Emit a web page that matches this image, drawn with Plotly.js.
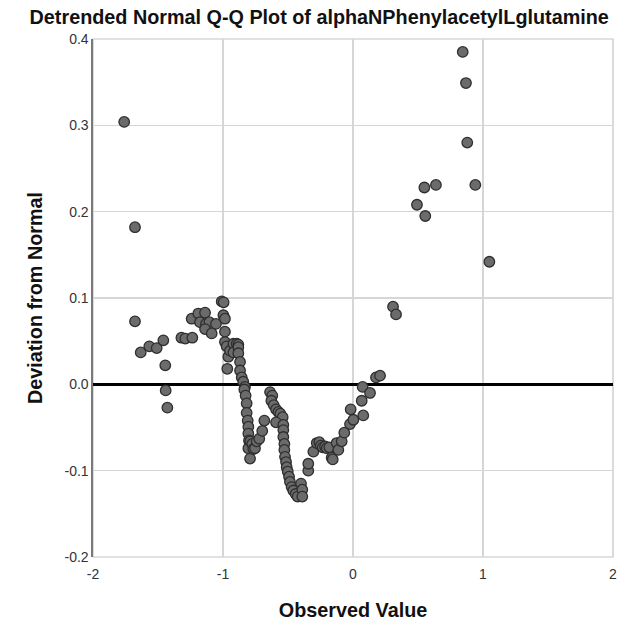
<!DOCTYPE html>
<html>
<head>
<meta charset="utf-8">
<script src="https://cdn.plot.ly/plotly-3.0.1.min.js"></script>
<style>
html,body{margin:0;padding:0;background:#fff;}
#chart{width:621px;height:625px;}
</style>
</head>
<body>
<div id="chart"></div>
<script>
// Observed values (x) and deviation from normal (y)
const observed = [
  -1.760, -1.677, -1.677, -1.633, -1.567, -1.510, -1.459, -1.444, -1.441, -1.428,
  -1.320, -1.290, -1.236,
  -1.241, -1.190, -1.138, -1.177, -1.131, -1.105, -1.054, -1.138, -1.087,
  -1.010, -0.995, -0.997, -0.985, -0.985, -0.985, -0.972, -0.959, -0.967, -0.946,
  -0.920, -0.920, -0.895, -0.882, -0.882, -0.882, -0.869, -0.869, -0.856, -0.844, -0.831,
  -0.836, -0.826, -0.818, -0.818, -0.810, -0.805, -0.805, -0.800, -0.805, -0.792,
  -0.790, -0.775, -0.767, -0.754, -0.741, -0.721, -0.698, -0.682,
  -0.638, -0.621, -0.628, -0.610, -0.592, -0.574, -0.559, -0.541, -0.592,
  -0.536, -0.536, -0.536, -0.528, -0.528, -0.523, -0.515, -0.510, -0.502, -0.492,
  -0.485, -0.472, -0.459, -0.441, -0.426, -0.400, -0.390, -0.390,
  -0.344, -0.344, -0.305, -0.279, -0.259, -0.248, -0.233, -0.215, -0.202, -0.182,
  -0.164, -0.156, -0.126, -0.113, -0.087, -0.067, -0.023, 0.003, -0.018, 0.079,
  0.067, 0.074, 0.131, 0.177, 0.208,
  0.308, 0.331, 0.492, 0.549, 0.556, 0.638, 0.844, 0.869, 0.879, 0.941, 1.049
];
const deviation = [
  0.304, 0.182, 0.073, 0.037, 0.044, 0.042, 0.051, 0.022, -0.007, -0.027,
  0.054, 0.053, 0.054,
  0.076, 0.082, 0.083, 0.072, 0.070, 0.072, 0.070, 0.064, 0.059,
  0.096, 0.095, 0.080, 0.076, 0.061, 0.049, 0.044, 0.032, 0.018, 0.039,
  0.047, 0.037, 0.047, 0.046, 0.043, 0.036, 0.026, 0.016, 0.008, 0.003, -0.003,
  -0.006, -0.013, -0.022, -0.033, -0.042, -0.049, -0.057, -0.065, -0.074, -0.086,
  -0.066, -0.069, -0.075, -0.074, -0.066, -0.063, -0.054, -0.042,
  -0.009, -0.013, -0.019, -0.024, -0.029, -0.032, -0.034, -0.038, -0.044,
  -0.047, -0.053, -0.061, -0.069, -0.076, -0.084, -0.090, -0.096, -0.101, -0.107,
  -0.113, -0.119, -0.123, -0.127, -0.130, -0.115, -0.122, -0.130,
  -0.100, -0.092, -0.078, -0.068, -0.067, -0.071, -0.073, -0.072, -0.074, -0.073,
  -0.085, -0.087, -0.068, -0.076, -0.066, -0.056, -0.046, -0.041, -0.029, -0.036,
  -0.019, -0.003, -0.010, 0.008, 0.010,
  0.090, 0.081, 0.208, 0.228, 0.195, 0.231, 0.385, 0.349, 0.280, 0.231, 0.142
];
const xTicks = [-2, -1, 0, 1, 2];
const yTicks = [0.4, 0.3, 0.2, 0.1, 0.0, -0.1, -0.2];

const FONT = '"Liberation Sans", Arial, sans-serif';

const trace = {
  type: 'scatter',
  mode: 'markers',
  x: observed,
  y: deviation,
  marker: {
    size: 10.5,
    color: '#6b6b6b',
    line: {color: '#2e2e2e', width: 1.3}
  },
  hoverinfo: 'x+y'
};

const layout = {
  width: 621,
  height: 625,
  margin: {l: 93, r: 8, t: 39, b: 68},
  paper_bgcolor: '#ffffff',
  plot_bgcolor: '#ffffff',
  showlegend: false,
  font: {family: FONT, color: '#222'},
  title: {
    text: '<b>Detrended Normal Q-Q Plot of alphaNPhenylacetylLglutamine</b>',
    font: {family: FONT, size: 19.8, color: '#111'},
    x: 0.514, xref: 'container', xanchor: 'center',
    y: 0.9725, yref: 'container', yanchor: 'middle', pad: {t: 0, b: 0}
  },
  shapes: [{
    type: 'rect', xref: 'paper', yref: 'paper', x0: 0, x1: 1, y0: 0, y1: 1,
    line: {color: '#c4c4c4', width: 1.2}, fillcolor: 'rgba(0,0,0,0)', layer: 'below'
  }],
  xaxis: {
    range: [-2, 2],
    tickvals: xTicks,
    ticktext: xTicks.map(String),
    showgrid: true,
    gridcolor: '#d6d6d6',
    gridwidth: 1.2,
    zeroline: false,
    showline: false,
    ticks: '',
    ticklabelstandoff: 7,
    tickfont: {family: FONT, size: 14, color: '#333'},
    automargin: false,
    title: {text: '<b>Observed Value</b>', font: {family: FONT, size: 19.8, color: '#111'}, standoff: 22}
  },
  yaxis: {
    range: [-0.2, 0.4],
    tickvals: yTicks,
    ticktext: yTicks.map(v => v.toFixed(1)),
    showgrid: true,
    gridcolor: '#d6d6d6',
    gridwidth: 1.2,
    zeroline: true,
    zerolinecolor: '#000000',
    zerolinewidth: 3.2,
    showline: true,
    linecolor: '#7a7a7a',
    linewidth: 1.6,
    ticks: '',
    tickfont: {family: FONT, size: 14, color: '#333'},
    automargin: false,
    title: {text: '<b>Deviation from Normal</b>', font: {family: FONT, size: 19.8, color: '#111'}, standoff: 16}
  }
};

Plotly.newPlot('chart', [trace], layout, {displayModeBar: false, staticPlot: true});
</script>
</body>
</html>
